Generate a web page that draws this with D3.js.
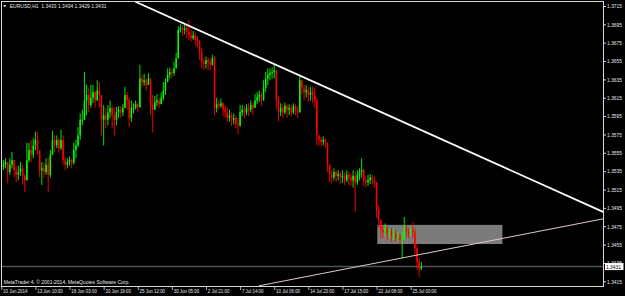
<!DOCTYPE html>
<html>
<head>
<meta charset="utf-8">
<script src="https://cdn.jsdelivr.net/npm/d3@7"></script>
<style>
  html, body { margin: 0; padding: 0; background: #000; }
  svg { display: block; }
  text { font-family: "Liberation Sans", Arial, sans-serif; }
</style>
</head>
<body>
<div id="chart"></div>
<script>
// EURUSD H1, drawn as 4-hour candles
var firstOpen = 1.3540;
var closes = [
    1.3542,1.3545,1.3534,1.3542,1.3547,1.3536,1.3531,1.3534,1.3538,1.3530,
    1.3525,1.3547,1.3558,1.3553,1.3563,1.3569,1.3558,1.3536,1.3538,1.3534,
    1.3542,1.3531,1.3553,1.3569,1.3563,1.3569,1.3560,1.3569,1.3547,1.3542,
    1.3545,1.3547,1.3544,1.3558,1.3563,1.3574,1.3591,1.3591,1.3612,1.3618,
    1.3607,1.3615,1.3621,1.3612,1.3623,1.3618,1.3591,1.3596,1.3591,1.3599,
    1.3604,1.3596,1.3591,1.3599,1.3602,1.3599,1.3604,1.3618,1.3612,1.3593,
    1.3604,1.3604,1.3608,1.3605,1.3636,1.3632,1.3634,1.3629,1.3636,1.3607,
    1.3602,1.3610,1.3612,1.3608,1.3615,1.3623,1.3632,1.3640,1.3643,1.3642,
    1.3647,1.3658,1.3689,1.3691,1.3689,1.3691,1.3687,1.3683,1.3680,1.3683,
    1.3678,1.3676,1.3665,1.3654,1.3652,1.3656,1.3654,1.3651,1.3658,1.3604,
    1.3608,1.3606,1.3609,1.3602,1.3599,1.3593,1.3596,1.3591,1.3593,1.3586,
    1.3585,1.3599,1.3602,1.3599,1.3604,1.3602,1.3607,1.3604,1.3612,1.3616,
    1.3618,1.3612,1.3626,1.3636,1.3640,1.3642,1.3643,1.3645,1.3612,1.3599,
    1.3604,1.3599,1.3606,1.3602,1.3604,1.3599,1.3606,1.3602,1.3599,1.3634,
    1.3626,1.3621,1.3623,1.3618,1.3621,1.3618,1.3612,1.3574,1.3569,1.3567,
    1.3569,1.3566,1.3542,1.3531,1.3528,1.3534,1.3530,1.3532,1.3528,1.3530,
    1.3525,1.3531,1.3528,1.3525,1.3530,1.3523,1.3531,1.3534,1.3536,1.3525,
    1.3523,1.3525,1.3528,1.3525,1.3523,1.3493,1.3482,1.3471,1.3469,1.3473,
    1.3467,1.3469,1.3464,1.3467,1.3462,1.3464,1.3460,1.3462,1.3473,1.3469,
    1.3467,1.3471,1.3469,1.3451,1.3436,1.3429,1.3431
];
var highs = [
    1.3547,1.3549,1.3545,1.3549,1.3556,1.3547,1.3540,1.3541,1.3545,1.3542,
    1.3532,1.3566,1.3566,1.3569,1.3571,1.3578,1.3578,1.3558,1.3545,1.3544,
    1.3549,1.3550,1.3558,1.3579,1.3574,1.3574,1.3571,1.3580,1.3574,1.3550,
    1.3549,1.3551,1.3549,1.3566,1.3569,1.3583,1.3598,1.3602,1.3643,1.3629,
    1.3626,1.3629,1.3629,1.3623,1.3634,1.3632,1.3618,1.3607,1.3604,1.3607,
    1.3612,1.3606,1.3604,1.3605,1.3606,1.3606,1.3608,1.3627,1.3621,1.3615,
    1.3612,1.3609,1.3612,1.3610,1.3651,1.3640,1.3641,1.3636,1.3642,1.3636,
    1.3618,1.3617,1.3619,1.3615,1.3621,1.3632,1.3636,1.3647,1.3648,1.3647,
    1.3654,1.3664,1.3693,1.3695,1.3694,1.3695,1.3694,1.3700,1.3689,1.3688,
    1.3686,1.3682,1.3678,1.3669,1.3658,1.3660,1.3659,1.3658,1.3662,1.3660,
    1.3615,1.3612,1.3614,1.3610,1.3607,1.3604,1.3602,1.3599,1.3598,1.3596,
    1.3593,1.3607,1.3607,1.3606,1.3608,1.3609,1.3612,1.3610,1.3619,1.3621,
    1.3623,1.3621,1.3634,1.3643,1.3647,1.3647,1.3648,1.3651,1.3645,1.3617,
    1.3609,1.3608,1.3610,1.3608,1.3608,1.3607,1.3609,1.3608,1.3606,1.3640,
    1.3632,1.3629,1.3629,1.3626,1.3627,1.3627,1.3626,1.3615,1.3574,1.3572,
    1.3573,1.3571,1.3563,1.3542,1.3536,1.3538,1.3536,1.3536,1.3534,1.3536,
    1.3534,1.3536,1.3534,1.3532,1.3536,1.3534,1.3536,1.3538,1.3549,1.3538,
    1.3530,1.3531,1.3532,1.3531,1.3529,1.3523,1.3498,1.3480,1.3475,1.3478,
    1.3475,1.3473,1.3473,1.3473,1.3471,1.3469,1.3467,1.3469,1.3485,1.3476,
    1.3473,1.3475,1.3480,1.3473,1.3455,1.3440,1.3436
];
var lows = [
    1.3536,1.3538,1.3522,1.3531,1.3538,1.3528,1.3523,1.3525,1.3530,1.3520,
    1.3512,1.3528,1.3545,1.3545,1.3549,1.3558,1.3553,1.3528,1.3520,1.3528,
    1.3531,1.3512,1.3528,1.3556,1.3556,1.3560,1.3555,1.3558,1.3542,1.3536,
    1.3538,1.3541,1.3538,1.3542,1.3549,1.3561,1.3569,1.3585,1.3591,1.3596,
    1.3599,1.3604,1.3609,1.3604,1.3612,1.3604,1.3574,1.3563,1.3582,1.3585,
    1.3593,1.3582,1.3574,1.3585,1.3593,1.3593,1.3595,1.3604,1.3602,1.3583,
    1.3589,1.3598,1.3602,1.3599,1.3604,1.3626,1.3628,1.3623,1.3630,1.3596,
    1.3577,1.3604,1.3606,1.3604,1.3608,1.3612,1.3618,1.3632,1.3636,1.3636,
    1.3639,1.3650,1.3658,1.3686,1.3682,1.3684,1.3680,1.3678,1.3676,1.3678,
    1.3672,1.3670,1.3656,1.3647,1.3645,1.3647,1.3645,1.3645,1.3650,1.3596,
    1.3599,1.3602,1.3604,1.3595,1.3593,1.3589,1.3589,1.3584,1.3586,1.3582,
    1.3575,1.3583,1.3595,1.3593,1.3596,1.3595,1.3599,1.3596,1.3604,1.3608,
    1.3610,1.3606,1.3612,1.3621,1.3629,1.3634,1.3636,1.3636,1.3602,1.3589,
    1.3595,1.3593,1.3597,1.3593,1.3596,1.3595,1.3597,1.3596,1.3593,1.3599,
    1.3618,1.3612,1.3615,1.3610,1.3612,1.3609,1.3604,1.3563,1.3563,1.3562,
    1.3563,1.3560,1.3534,1.3523,1.3522,1.3525,1.3523,1.3525,1.3521,1.3522,
    1.3520,1.3523,1.3520,1.3519,1.3517,1.3491,1.3520,1.3525,1.3528,1.3519,
    1.3517,1.3519,1.3521,1.3520,1.3517,1.3484,1.3473,1.3462,1.3462,1.3464,
    1.3460,1.3462,1.3458,1.3460,1.3458,1.3458,1.3455,1.3440,1.3460,1.3462,
    1.3462,1.3464,1.3462,1.3444,1.3427,1.3420,1.3427
];

// time axis labels (one every 16 bars)
var timeLabels = ["10 Jun 2014", "13 Jun 10:00", "18 Jun 03:00", "20 Jun 19:00", "25 Jun 12:00",
    "30 Jun 05:00", "2 Jul 21:00", "7 Jul 14:00", "10 Jul 06:00", "14 Jul 23:00",
    "17 Jul 15:00", "22 Jul 08:00", "25 Jul 00:00"];
var timeBars = [0, 16, 32, 48, 64, 80, 96, 112, 128, 144, 160, 176, 192];

var priceTicks = [1.3715, 1.3695, 1.3675, 1.3655, 1.3635, 1.3615, 1.3595, 1.3575,
    1.3555, 1.3535, 1.3515, 1.3495, 1.3475, 1.3455, 1.3435, 1.3415];

var lastPrice = 1.3431;
var headerText = "EURUSD,H1  1.3433 1.3434 1.3429 1.3431";
var footerText = "MetaTrader 4, \u00a9 2001-2014, MetaQuotes Software Corp.";

// drawn objects
var upperTrend = [{ bar: 62.9, price: 1.37196 }, { bar: 282.5, price: 1.34904 }];
var lowerTrend = [{ bar: 120.8, price: 1.3410 }, { bar: 282.2, price: 1.3483 }];
var zone = { bar0: 176.6, bar1: 234.8, top: 1.3476, bottom: 1.3456 };

var W = 625, H = 296;
var plot = { left: 1.5, right: 603.5, top: 1.5, bottom: 286.5 };
var fg = "#e8e8e8";

var svg = d3.select("#chart")
    .append("svg")
    .attr("width", W)
    .attr("height", H)
    .style("background", "#000");

var x = d3.scaleLinear().domain([0, 282.2]).range([1.3, 603]);
var y = d3.scaleLinear().domain([1.3415, 1.3715]).range([281.25, 6]);

// small text squeezed horizontally, like the terminal's narrow font
function label(parent, tx, ty, sx, str, color) {
    return parent.append("text")
        .attr("transform", "translate(" + tx + "," + ty + ") scale(" + sx + ",1)")
        .attr("xml:space", "preserve")
        .style("font-size", "5.6px")
        .style("fill", color || fg)
        .text(str);
}

svg.append("clipPath").attr("id", "plotclip")
    .append("rect")
    .attr("x", plot.left).attr("y", plot.top)
    .attr("width", plot.right - plot.left).attr("height", plot.bottom - plot.top);

var g = svg.append("g").attr("clip-path", "url(#plotclip)");

// grey zone rectangle (background object)
g.append("rect")
    .attr("x", x(zone.bar0))
    .attr("y", y(zone.top))
    .attr("width", x(zone.bar1) - x(zone.bar0))
    .attr("height", y(zone.bottom) - y(zone.top))
    .style("fill", "#7b7b7b")
    .style("stroke", "#8c8c8c")
    .style("stroke-width", 0.8);

// bid line
g.append("line")
    .attr("x1", plot.left).attr("x2", plot.right)
    .attr("y1", y(lastPrice)).attr("y2", y(lastPrice))
    .style("stroke", "#4a5157")
    .style("stroke-width", 1.4);

// candles
var candles = closes.map(function (c, i) {
    var o = i === 0 ? firstOpen : closes[i - 1];
    return { bar: i + 1, open: o, high: highs[i], low: lows[i], close: c };
});

var cg = g.append("g");
candles.forEach(function (d) {
    var col = d.close >= d.open ? "#00ff00" : "#ff0000";
    var top = Math.max(d.high, d.open, d.close);
    var bot = Math.min(d.low, d.open, d.close);
    cg.append("line")
        .attr("x1", x(d.bar)).attr("x2", x(d.bar))
        .attr("y1", y(top)).attr("y2", y(bot))
        .style("stroke", col)
        .style("stroke-width", 0.9);
    var by = y(Math.max(d.open, d.close));
    var bh = Math.max(0.8, y(Math.min(d.open, d.close)) - by);
    cg.append("rect")
        .attr("x", x(d.bar) - 0.75)
        .attr("y", by)
        .attr("width", 1.5)
        .attr("height", bh)
        .style("fill", col);
});

// trend lines
var trendLine = d3.line()
    .x(function (d) { return x(d.bar); })
    .y(function (d) { return y(d.price); });

g.append("path")
    .datum(upperTrend)
    .attr("d", trendLine)
    .style("fill", "none")
    .style("stroke", "#ffffff")
    .style("stroke-width", 1.8);

g.append("path")
    .datum(lowerTrend)
    .attr("d", trendLine)
    .style("fill", "none")
    .style("stroke", "#dccaca")
    .style("stroke-width", 1);

// frame
svg.append("rect")
    .attr("x", plot.left).attr("y", plot.top)
    .attr("width", plot.right - plot.left).attr("height", plot.bottom - plot.top)
    .style("fill", "none")
    .style("stroke", "#d8d8d8")
    .style("stroke-width", 1);

// price axis
var yAxis = svg.append("g")
    .attr("transform", "translate(" + plot.right + ",0)")
    .call(d3.axisRight(y).tickValues(priceTicks).tickSize(2.5).tickFormat(d3.format(".4f")));
yAxis.select(".domain").remove();
yAxis.selectAll(".tick line").style("stroke", "#d8d8d8");
yAxis.selectAll(".tick text")
    .attr("x", 0)
    .attr("transform", "translate(3.6,0) scale(0.87,1)")
    .style("fill", fg)
    .style("font-size", "5.6px")
    .style("font-family", "\"Liberation Sans\", Arial, sans-serif");

// current price label
svg.append("rect")
    .attr("x", 605).attr("y", y(lastPrice) - 3.5)
    .attr("width", 18.5).attr("height", 7)
    .style("fill", "#ffffff");
label(svg, 606, y(lastPrice) + 2, 0.87, d3.format(".4f")(lastPrice), "#000");

// time axis
var tg = svg.append("g");
timeBars.forEach(function (b, i) {
    tg.append("line")
        .attr("x1", x(b) + 0.5).attr("x2", x(b) + 0.5)
        .attr("y1", plot.bottom).attr("y2", plot.bottom + 3.5)
        .style("stroke", "#d8d8d8")
        .style("stroke-width", 0.8);
    label(tg, x(b) + 1.8, 293.4, 0.79, timeLabels[i]);
});

// header
svg.append("path")
    .attr("d", "M3,5.2 L6.4,5.2 L4.7,7.2 Z")
    .style("fill", fg);
label(svg, 9.8, 7.8, 0.89, headerText);

// footer
label(svg, 3.8, 284, 0.89, footerText);
</script>
</body>
</html>
